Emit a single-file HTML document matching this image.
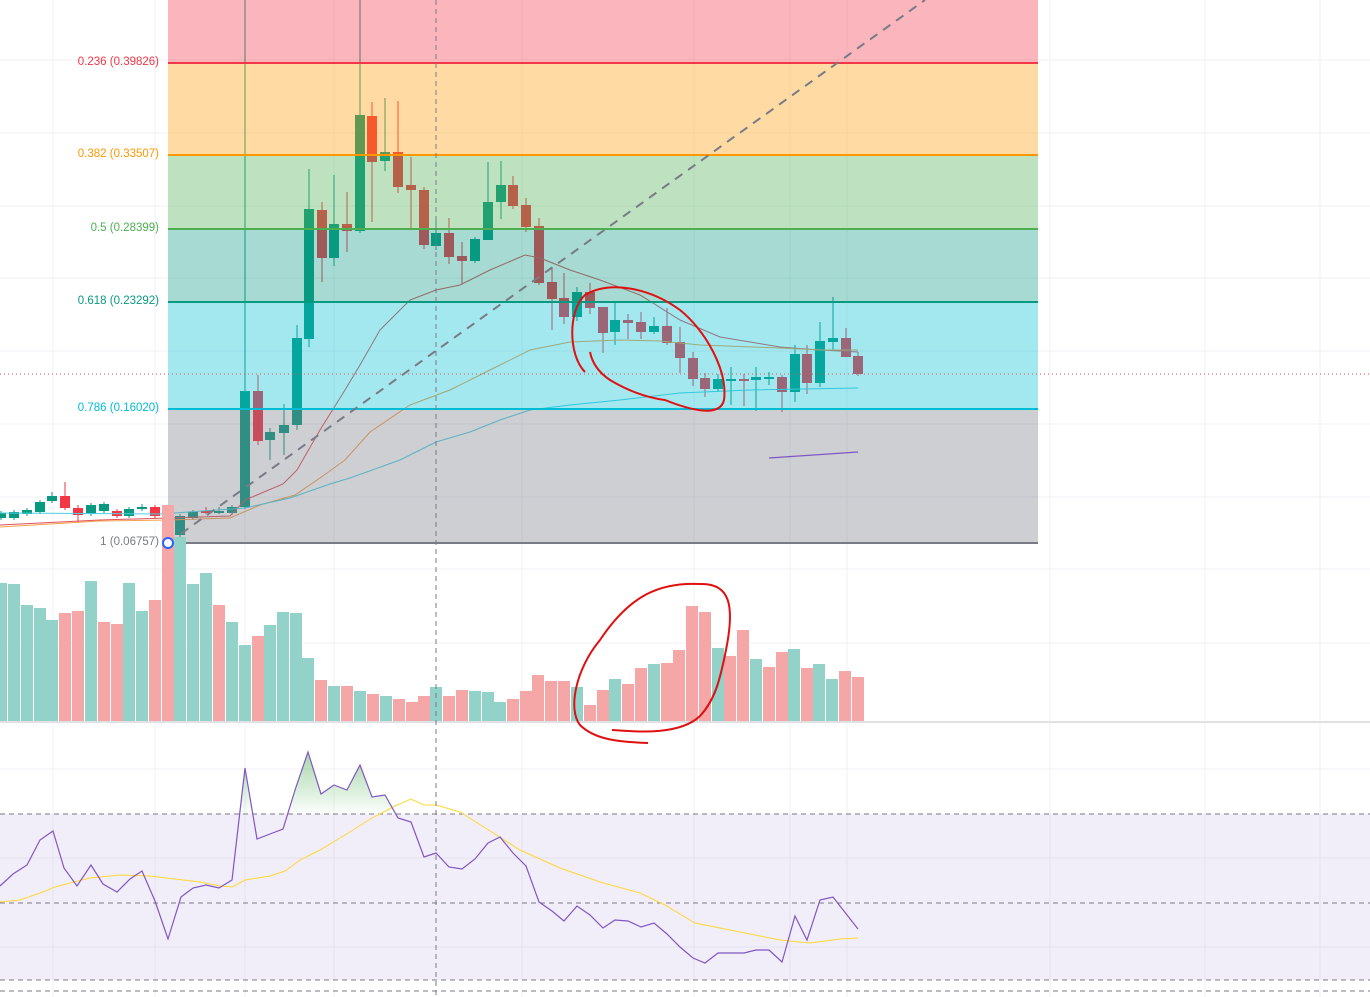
<!DOCTYPE html>
<html><head><meta charset="utf-8"><style>
html,body{margin:0;padding:0;background:#fff;}
#wrap{position:relative;width:1370px;height:997px;overflow:hidden;font-family:"Liberation Sans",sans-serif;}
.lbl{position:absolute;right:1211px;font-size:11.5px;white-space:nowrap;}
</style></head><body><div id="wrap">
<svg id="s" width="1370" height="997" xmlns="http://www.w3.org/2000/svg" style="position:absolute;left:0;top:0"></svg>
<div class="lbl" style="top:56px;color:#f23645">0.236 (0.39826)</div>
<div class="lbl" style="top:148px;color:#ff9800">0.382 (0.33507)</div>
<div class="lbl" style="top:222px;color:#4caf50">0.5 (0.28399)</div>
<div class="lbl" style="top:295px;color:#089981">0.618 (0.23292)</div>
<div class="lbl" style="top:402px;color:#00bcd4">0.786 (0.16020)</div>
<div class="lbl" style="top:536px;color:#787b86">1 (0.06757)</div>
</div>
<script>
const s=document.getElementById('s');let h='';
const G='#089981',R='#f23645';
[60,133,206,278,351,424,497,569,643,769,858,947].forEach(y=>h+=`<line x1="0" x2="1370" y1="${y}" y2="${y}" stroke="#f0f1f4"/>`);
[53,155,245,334,522,694,790,847,1050,1205,1320].forEach(x=>h+=`<line x1="${x}" x2="${x}" y1="0" y2="997" stroke="#f0f1f4"/>`);
const C=[[1,518,513,511,520],[14,518,512,510,520],[27,514,510,508,516],[40,512,502,500,514],[52,501,496,492,503],[65,496,508,482,510],[78,508,515,505,522],[91,514,505,503,516],[104,511,504,502,513],[117,511,516,509,518],[129,516,509,507,518],[142,509,507,504,511],[155,507,516,505,518],
[168,513,535,505,537],[180,535,516,514,537],[193,518,512,510,520],[206,511,511,507,514],[219,511,511,507,514],[232,513,507,505,515],[245,507,391,0,509],[258,391,441,375,445],[270,440,432,428,460],[284,433,425,404,455],[297,425,338,325,430],[309,339,209,169,347],[322,210,258,202,282],[334,258,224,175,266],[347,224,231,192,252],[360,231,115,0,233],[372,116,162,102,222],[385,161,152,98,171],[398,152,187,101,193],[411,185,190,157,228],[424,190,245,187,249],[436,246,233,218,250],[449,233,257,218,264],[462,256,261,242,284],[475,261,239,237,263],[488,240,202,162,240],[501,202,185,161,219],[513,185,206,176,209],[526,205,227,198,232],[539,226,283,218,285],[552,282,299,267,330],[564,298,317,273,324],[577,317,292,287,321],[590,292,308,283,314],[603,307,333,307,353],[615,332,320,301,345],[628,320,323,314,339],[641,322,332,312,339],[654,332,326,317,334],[667,326,343,308,345],[680,342,358,327,373],[693,358,379,352,386],[705,378,389,373,397],[718,389,379,374,392],[731,379,379,367,405],[744,379,379,374,406],[756,380,377,367,411],[769,377,377,372,385],[782,377,392,375,412],[795,392,354,345,402],[807,354,383,345,394],[820,383,341,322,387],[833,342,338,297,351],[846,338,357,328,357],[858,356,374,352,376]];
C.forEach(([x,o,c,hi,lo])=>{const col=c<o||(c==o&&x%2)?G:R;const t=Math.min(o,c),b=Math.max(Math.max(o,c),t+2);
h+=`<line x1="${x}" x2="${x}" y1="${hi}" y2="${lo}" stroke="${col}" stroke-width="1"/><rect x="${x-5}" y="${t}" width="10" height="${b-t}" fill="${col}"/>`;});
const pl=(p,c,w,extra='')=>`<polyline fill="none" stroke="${c}" stroke-width="${w}" ${extra} points="${p.map(a=>a.join(',')).join(' ')}"/>`;
h+=pl([[0,525],[100,520],[168,518],[230,516],[245,500],[283,484],[297,470],[320,430],[345,390],[360,365],[380,330],[410,300],[436,290],[460,285],[490,270],[525,255],[540,258],[570,270],[600,280],[640,295],[680,320],[720,337],[780,347],[820,350],[858,352]],'#e0515a',1);
h+=pl([[0,527],[100,521],[168,520],[230,518],[260,505],[295,495],[320,478],[345,460],[370,432],[410,405],[450,390],[480,375],[500,365],[530,350],[570,342],[620,340],[660,341],[700,345],[780,348],[820,350],[858,350]],'#f7a04b',1);
h+=pl([[0,513],[160,514],[245,508],[290,498],[330,484],[350,478],[400,460],[436,442],[470,432],[500,420],[530,410],[570,405],[620,400],[680,393],[750,390],[858,388]],'#4dd0e1',1);
[[0,63,R],[63,155,'#ff9800'],[155,229,'#4caf50'],[229,302,G],[302,409,'#00bcd4'],[409,543,'#787b86']].forEach(([a,b,c])=>h+=`<rect x="168" y="${a}" width="870" height="${b-a}" fill="${c}" fill-opacity="0.36"/>`);
[[63,R],[155,'#ff9800'],[229,'#4caf50'],[302,G],[409,'#00bcd4'],[543,'#787b86']].forEach(([y,c])=>h+=`<line x1="168" x2="1038" y1="${y}" y2="${y}" stroke="${c}" stroke-width="2"/>`);
h+=`<line x1="0" x2="1370" y1="374" y2="374" stroke="#e0515a" stroke-dasharray="1 3"/>`;
h+=`<line x1="168" y1="543" x2="925" y2="0" stroke="#787b86" stroke-width="2" stroke-dasharray="9 7"/>`;
h+=`<line x1="769" y1="458" x2="858" y2="452" stroke="#7e57c2" stroke-width="1.3"/>`;
const V=[[1,583,G],[14,584,G],[27,605,G],[40,608,G],[52,620,G],[65,613,R],[78,611,R],[91,581,G],[104,622,R],[117,624,R],[129,583,G],[142,611,G],[155,600,R],[168,505,R],[180,537,G],[193,584,G],[206,573,G],[219,605,R],[232,622,G],[245,645,G],[258,636,R],[270,625,G],[283,612,G],[296,613,G],[308,658,G],[321,680,R],[334,686,G],[347,686,R],[360,691,G],[373,694,R],[386,696,G],[399,699,R],[412,702,R],[424,696,R],[436,687,G],[449,696,R],[462,690,R],[475,691,G],[488,692,G],[500,702,G],[513,699,R],[526,691,R],[538,675,R],[551,681,R],[564,681,R],[577,687,G],[590,705,R],[603,690,R],[615,679,G],[628,684,R],[641,668,R],[654,664,G],[667,663,R],[679,650,R],[692,606,R],[705,612,R],[718,648,G],[730,656,R],[743,630,R],[756,659,G],[769,667,R],[782,652,R],[794,649,G],[807,668,R],[819,664,G],[832,679,G],[845,671,R],[858,677,R]];
V.forEach(([x,t,c])=>h+=`<rect x="${x-6}" y="${t}" width="12" height="${721-t}" fill="${c==G?'#92d2c9':'#f5a6a7'}"/>`);
h+=`<line x1="0" x2="1370" y1="722" y2="722" stroke="#dfe1e5" stroke-width="2"/>`;
h+=`<circle cx="168" cy="543" r="5" fill="#fff" stroke="#2962ff" stroke-width="2"/>`;
h+=`<rect x="0" y="814" width="1370" height="166" fill="#7e57c2" fill-opacity="0.1"/>`;
[814,903,980,991].forEach(y=>h+=`<line x1="0" x2="1370" y1="${y}" y2="${y}" stroke="#787b86" stroke-dasharray="5 4"/>`);
const RS=[[0,886],[13,874],[27,865],[40,840],[53,831],[64,868],[77,886],[91,865],[103,884],[117,892],[130,879],[142,871],[155,901],[168,939],[181,897],[193,888],[206,885],[219,888],[232,880],[245,768],[257,839],[270,834],[283,829],[296,787],[308,752],[321,794],[334,785],[347,790],[360,765],[372,797],[385,795],[398,818],[411,822],[424,857],[436,853],[449,867],[462,869],[475,859],[488,843],[500,837],[513,853],[526,866],[539,902],[552,911],[564,921],[577,906],[590,915],[603,928],[615,920],[628,921],[641,927],[654,923],[667,934],[680,947],[693,958],[705,963],[718,953],[731,953],[744,953],[756,950],[769,950],[782,962],[795,916],[807,940],[820,900],[833,897],[858,929]];
h+=`<defs><linearGradient id="gg" gradientUnits="userSpaceOnUse" x1="0" y1="752" x2="0" y2="814"><stop offset="0" stop-color="#4caf50" stop-opacity="0.5"/><stop offset="1" stop-color="#4caf50" stop-opacity="0.02"/></linearGradient><clipPath id="cp"><rect x="0" y="740" width="1370" height="74"/></clipPath></defs>`;
h+=`<polygon clip-path="url(#cp)" fill="url(#gg)" points="0,814 ${RS.map(a=>a.join(',')).join(' ')} 858,814"/>`;
h+=pl([[0,902],[20,900],[40,893],[55,887],[70,883],[90,878],[120,875],[150,876],[175,879],[200,882],[220,886],[232,887],[245,880],[270,876],[285,871],[300,860],[320,850],[345,835],[372,818],[395,806],[411,799],[424,805],[436,805],[460,812],[487,829],[520,850],[560,868],[600,882],[640,893],[665,905],[695,923],[740,932],[780,940],[810,943],[840,939],[858,938]],'#fdd835',1);
h+=pl(RS,'#7e57c2',1.2);
h+=`<line x1="436" x2="436" y1="0" y2="997" stroke="#787b86" stroke-dasharray="5 4"/>`;
h+=`<path d="M590,352 C592,362 598,372 610,380 C630,392 650,398 665,400 C690,410 720,418 724,400 C728,370 705,330 680,310 C650,288 610,280 585,295 C568,310 568,355 585,372" fill="none" stroke="#e01010" stroke-width="2"/>`;
h+=`<path d="M612,730 C640,732 680,735 700,716 C715,700 720,680 726,650 C735,605 730,583 700,584 C660,582 630,595 600,640 C575,670 568,710 580,725 C595,740 620,742 648,743" fill="none" stroke="#e01010" stroke-width="2"/>`;
s.innerHTML=h;
</script></body></html>
